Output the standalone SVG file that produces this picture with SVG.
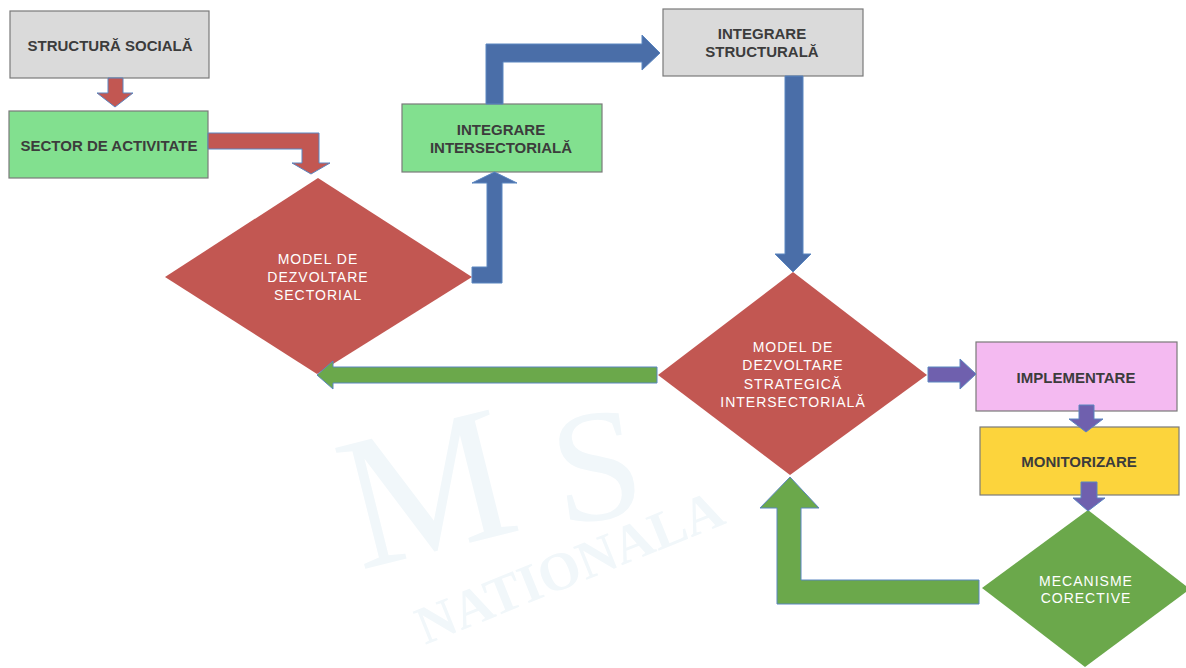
<svg xmlns="http://www.w3.org/2000/svg" width="1186" height="668" viewBox="0 0 1186 668">
<style>
.box{stroke:#7a7a7a;stroke-width:1.2}
.gray{fill:#dadada}
.green{fill:#82e08f}
.pink{fill:#f4baf1}
.yellow{fill:#fcd43c}
.red{fill:#c25752}
.gdia{fill:#6ba84b}
.bt{font-family:"Liberation Sans",Arial,sans-serif;font-weight:bold;font-size:15px;fill:#3c3c3c;text-anchor:middle;dominant-baseline:central}
.wt{font-family:"Liberation Sans",Arial,sans-serif;font-size:14px;letter-spacing:1px;fill:#ffffff;text-anchor:middle;dominant-baseline:central}
.ar{stroke:#5b86c0;stroke-width:1;stroke-linejoin:miter}
.ared{fill:#c25752}
.ablue{fill:#4a6ea8}
.agreen{fill:#6ba84b}
.apurple{fill:#6f60ae}
.wm{font-family:"Liberation Serif",serif;fill:#f1f7fa}
</style>
<rect width="1186" height="668" fill="#ffffff"/>
<g id="watermark">
<text class="wm" x="0" y="0" font-size="190" transform="translate(360,570) rotate(-14)">M</text>
<text class="wm" x="0" y="0" font-size="160" transform="translate(560,525) rotate(-8)">S</text>
<text class="wm" x="0" y="0" font-size="54" font-weight="bold" transform="translate(425,645) rotate(-22)">NATIONALA</text>
</g>
<g id="n-structura-sociala">
<rect class="box gray" x="10" y="11" width="199" height="67"/>
<text class="bt" x="110" y="45">STRUCTURĂ SOCIALĂ</text>
</g>
<g id="n-sector">
<rect class="box green" x="9" y="111" width="199" height="67"/>
<text class="bt" x="109" y="145">SECTOR DE ACTIVITATE</text>
</g>
<g id="n-model-sectorial">
<polygon class="red" points="318,178 472,277 317,374 165,277"/>
<text class="wt" x="318" y="259">MODEL DE</text>
<text class="wt" x="318" y="277">DEZVOLTARE</text>
<text class="wt" x="318" y="295">SECTORIAL</text>
</g>
<g id="n-integrare-intersectoriala">
<rect class="box green" x="402" y="104" width="200" height="68"/>
<text class="bt" x="501" y="129">INTEGRARE</text>
<text class="bt" x="501" y="147">INTERSECTORIALĂ</text>
</g>
<g id="n-integrare-structurala">
<rect class="box gray" x="663" y="9" width="200" height="67"/>
<text class="bt" x="762" y="33">INTEGRARE</text>
<text class="bt" x="762" y="51">STRUCTURALĂ</text>
</g>
<g id="n-model-strategic">
<polygon class="red" points="793,272 927,375 790,475 658,375"/>
<text class="wt" x="793" y="347">MODEL DE</text>
<text class="wt" x="793" y="365">DEZVOLTARE</text>
<text class="wt" x="793" y="383.5">STRATEGICĂ</text>
<text class="wt" x="793" y="402">INTERSECTORIALĂ</text>
</g>
<g id="n-implementare">
<rect class="box pink" x="976" y="342" width="201" height="69"/>
<text class="bt" x="1076" y="377">IMPLEMENTARE</text>
</g>
<g id="n-monitorizare">
<rect class="box yellow" x="980" y="427" width="199" height="68"/>
<text class="bt" x="1079" y="461">MONITORIZARE</text>
</g>
<g id="n-mecanisme">
<polygon class="gdia" points="1088,510 1190,589 1085,667 982,588"/>
<text class="wt" x="1086" y="581">MECANISME</text>
<text class="wt" x="1086" y="598">CORECTIVE</text>
</g>
<g id="connectors">
<polygon class="ar ared" points="108,78 123,78 123,93 133,93 115,107 97,93 108,93"/>
<polygon class="ar ared" points="208,133 319,133 319,163 330,163 311,174 292,163 302,163 302,149 208,149"/>
<polygon class="ar ablue" points="472,267 487,267 487,183 472,183 494.5,172 517,183 502,183 502,283 472,283"/>
<polygon class="ar ablue" points="486,104 486,44 642,44 642,35 660,53 642,70 642,62 503,62 503,104"/>
<polygon class="ar ablue" points="785,76 803,76 803,254 811,254 793,272 775,254 785,254"/>
<polygon class="ar agreen" points="657,367 333,367 333,361 317,375 333,389 333,383 657,383"/>
<polygon class="ar agreen" points="979,580 979,604 777,604 777,508 760,508 790,477 819,508 801,508 801,580"/>
<polygon class="ar apurple" points="928,367 960,367 960,359 976,374 960,389 960,382 928,382"/>
<polygon class="ar apurple" points="1079,405 1094,405 1094,419 1103,419 1086,432 1069,419 1079,419"/>
<polygon class="ar apurple" points="1081,482 1097,482 1097,498 1105,498 1088,511 1073,498 1081,498"/>
</g>
</svg>
